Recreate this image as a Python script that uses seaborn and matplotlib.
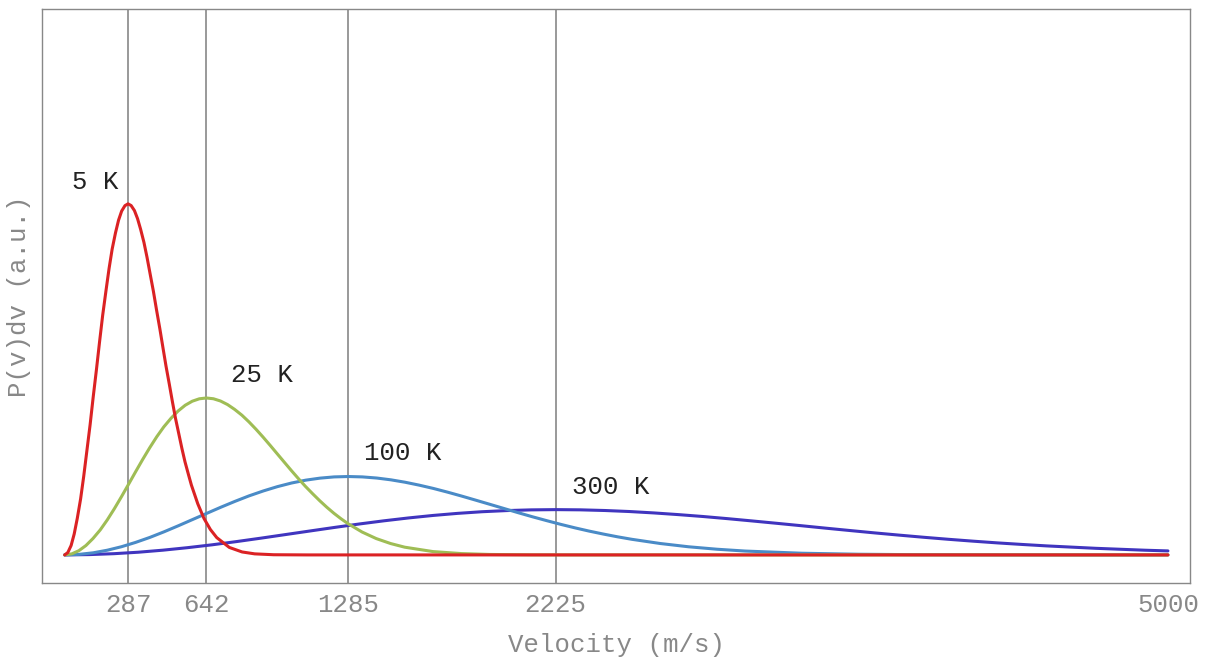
import matplotlib
matplotlib.use("Agg")
import matplotlib.pyplot as plt
import seaborn as sns
import pandas as pd

# Speed distributions (arbitrary units) for four temperatures
v_5k = [0, 14, 29, 43, 57, 72, 86, 100, 115, 129, 144, 158, 172, 187, 201, 215, 230,
        244, 258, 273, 287, 301, 316, 330, 344, 359, 373, 387, 402, 416, 431, 445, 459,
        474, 488, 502, 517, 531, 545, 560, 574, 603, 631, 660, 689, 746, 804, 861, 947,
        1100, 5000]
p_5k = [0, 0.0068, 0.0269, 0.0598, 0.1045, 0.1596, 0.2236, 0.2946, 0.3706, 0.4495,
        0.5293, 0.6076, 0.6826, 0.7527, 0.8159, 0.8712, 0.9172, 0.9536, 0.9794, 0.9949,
        1.0000, 0.9951, 0.9808, 0.9579, 0.9274, 0.8903, 0.8477, 0.8006, 0.7505, 0.6982,
        0.6446, 0.5910, 0.5379, 0.4863, 0.4366, 0.3893, 0.3450, 0.3035, 0.2654, 0.2307,
        0.1991, 0.1457, 0.1040, 0.0725, 0.0493, 0.0213, 0.0084, 0.0030, 0.0005, 0, 0]

v_25k = [0, 32, 64, 96, 128, 161, 193, 225, 257, 289, 321, 353, 385, 417, 449, 482, 514,
         546, 578, 610, 642, 674, 706, 738, 770, 803, 835, 867, 899, 931, 963, 995, 1027,
         1059, 1091, 1124, 1156, 1188, 1220, 1252, 1284, 1348, 1412, 1477, 1541, 1669,
         1798, 1926, 2119, 2400, 5000]
p_25k = [0, 0.0030, 0.0120, 0.0267, 0.0467, 0.0713, 0.0999, 0.1317, 0.1657, 0.2009,
         0.2366, 0.2716, 0.3051, 0.3365, 0.3647, 0.3894, 0.4100, 0.4263, 0.4378, 0.4447,
         0.4470, 0.4448, 0.4384, 0.4282, 0.4145, 0.3980, 0.3789, 0.3579, 0.3355, 0.3121,
         0.2881, 0.2642, 0.2404, 0.2174, 0.1952, 0.1740, 0.1542, 0.1357, 0.1186, 0.1031,
         0.0890, 0.0651, 0.0465, 0.0324, 0.0220, 0.0095, 0.0038, 0.0013, 0.0002, 0, 0]

v_100k = [0, 64, 129, 193, 257, 321, 386, 450, 514, 578, 643, 707, 771, 835, 900, 964,
          1028, 1092, 1157, 1221, 1285, 1349, 1414, 1478, 1542, 1606, 1671, 1735, 1799,
          1863, 1928, 1992, 2056, 2120, 2185, 2249, 2313, 2377, 2442, 2506, 2570, 2699,
          2827, 2956, 3084, 3341, 3598, 3855, 4241, 4700, 5000]
p_100k = [0, 0.0015, 0.0060, 0.0134, 0.0233, 0.0356, 0.0499, 0.0658, 0.0828, 0.1004,
          0.1182, 0.1357, 0.1524, 0.1681, 0.1822, 0.1945, 0.2048, 0.2129, 0.2187, 0.2222,
          0.2233, 0.2222, 0.2190, 0.2139, 0.2071, 0.1988, 0.1893, 0.1788, 0.1676, 0.1559,
          0.1439, 0.1320, 0.1201, 0.1086, 0.0975, 0.0869, 0.0770, 0.0678, 0.0593, 0.0515,
          0.0445, 0.0325, 0.0232, 0.0162, 0.0110, 0.0048, 0.0019, 0.0007, 0.0001, 0, 0]

v_300k = [0, 111, 223, 334, 445, 556, 668, 779, 890, 1001, 1113, 1224, 1335, 1446, 1558,
          1669, 1780, 1891, 2003, 2114, 2225, 2336, 2448, 2559, 2670, 2781, 2893, 3004,
          3115, 3226, 3338, 3449, 3560, 3671, 3783, 3894, 4005, 4116, 4228, 4339, 4450,
          4673, 4895, 5000]
p_300k = [0, 0.0009, 0.0035, 0.0077, 0.0135, 0.0206, 0.0288, 0.0380, 0.0478, 0.0580,
          0.0683, 0.0784, 0.0881, 0.0971, 0.1053, 0.1124, 0.1183, 0.1230, 0.1263, 0.1283,
          0.1290, 0.1284, 0.1265, 0.1236, 0.1196, 0.1148, 0.1094, 0.1033, 0.0968, 0.0901,
          0.0832, 0.0762, 0.0694, 0.0627, 0.0563, 0.0502, 0.0445, 0.0392, 0.0342, 0.0298,
          0.0257, 0.0188, 0.0134, 0.0114]

temps = ["300 K", "100 K", "25 K", "5 K"]
colors = ["#4035BF", "#4A8BC7", "#9FBD55", "#DB2224"]
peak_speeds = [287, 642, 1285, 2225]
tick_values = [287, 642, 1285, 2225, 5000]
label_pos = {"5 K": (137, 1.063), "25 K": (894, 0.513),
             "100 K": (1533, 0.291), "300 K": (2475, 0.194)}

frames = []
for name, v, p in [("300 K", v_300k, p_300k), ("100 K", v_100k, p_100k),
                   ("25 K", v_25k, p_25k), ("5 K", v_5k, p_5k)]:
    frames.append(pd.DataFrame({"v": v, "p": p, "T": name}))
df = pd.concat(frames, ignore_index=True)

sns.set_style("white")
mono = ["Liberation Mono", "DejaVu Sans Mono"]
plt.rcParams["font.family"] = mono

fig = plt.figure(figsize=(12.08, 6.58), dpi=100)
ax = fig.add_axes([42 / 1208, 1 - 583 / 658, (1190 - 42) / 1208, (583 - 9) / 658])

for vp in peak_speeds:
    ax.axvline(vp, color="#999999", lw=1.4, zorder=1)

for name, col in zip(temps, colors):
    sub = df[df["T"] == name]
    sns.lineplot(data=sub, x="v", y="p", color=col, lw=2.2, ax=ax,
                 estimator=None, sort=False, zorder=3)

for name, (x, y) in label_pos.items():
    ax.text(x, y, name, ha="center", va="center", fontsize=18.5, color="#222222",
            family=mono)

ax.set_xlim(-103, 5100)
ax.set_ylim(-0.08, 1.555)
ax.set_xticks(tick_values)
ax.set_xticklabels([str(t) for t in tick_values])
ax.set_yticks([])
ax.tick_params(axis="x", direction="in", length=5, width=1, color="#888888",
               labelcolor="#888888", labelsize=18.5, pad=7)
ax.set_xlabel("Velocity (m/s)", fontsize=18.5, color="#888888", labelpad=12)
ax.set_ylabel("P(v)dv (a.u.)", fontsize=18.5, color="#888888", labelpad=8)
for s in ax.spines.values():
    s.set_color("#888888")
    s.set_linewidth(1)

fig.savefig("out.png", dpi=100)
